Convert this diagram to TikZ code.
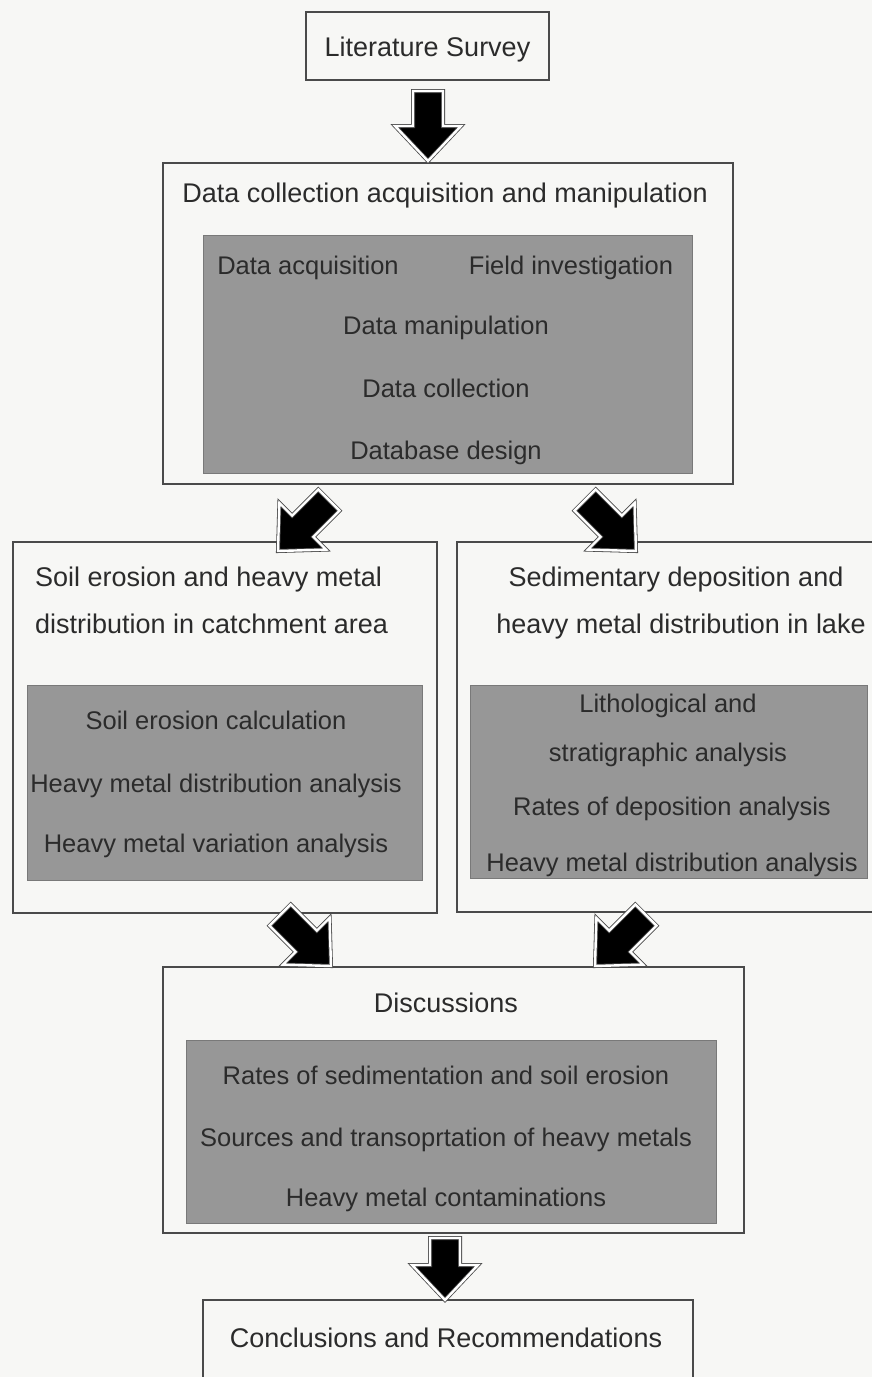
\documentclass[tikz,border=0pt]{standalone}
\usepackage{fontspec}
\setmainfont{Liberation Sans}
\usetikzlibrary{calc}
\definecolor{paper}{HTML}{F7F7F5}
\definecolor{ink}{HTML}{2B2B2B}
\definecolor{boxline}{HTML}{4A4A4A}
\definecolor{panel}{HTML}{979797}
\tikzset{
  outerbox/.style={draw=boxline, line width=1.6pt, fill=none, inner sep=0pt, anchor=center},
  innerbox/.style={fill=panel, draw=panel!80!black, line width=0.8pt, inner sep=0pt, anchor=center},
  bigtxt/.style={font=\fontsize{27}{30}\selectfont, text=ink, inner sep=0pt, anchor=base},
  smalltxt/.style={font=\fontsize{25.5}{28}\selectfont, text=ink, inner sep=0pt, anchor=base},
  blockarrow/.style={fill=black, draw=boxline, line width=0.8pt, double=white, double distance=2.4pt, line join=miter}
}
% #1 tip coordinate name, #2 canvas angle of pointing direction, #3 length
\newcommand\BlockArrow[3]{%
  \begin{scope}[shift={(#1)}, rotate=#2]
    \draw[blockarrow] (0,0) -- (-35,33) -- (-35,15) -- (-#3,15) -- (-#3,-15) -- (-35,-15) -- (-35,-33) -- cycle;
  \end{scope}}
\begin{document}
\begin{tikzpicture}[x=1pt, y=-1pt]
\useasboundingbox[fill=paper] (0,0) rectangle (872,1377);
\clip (0,0) rectangle (872,1377);

% boxes
\node[outerbox, minimum width=243, minimum height=68] (lit) at (427.5,46) {};
\node[outerbox, minimum width=570, minimum height=321] (data) at (448,323.5) {};
\node[innerbox, minimum width=489, minimum height=238] (datain) at (447.5,354) {};
\node[outerbox, minimum width=424, minimum height=371] (soil) at (225,727.5) {};
\node[innerbox, minimum width=395, minimum height=195] (soilin) at (224.5,782.5) {};
\node[outerbox, minimum width=421, minimum height=370] (sed) at (667.5,727) {};
\node[innerbox, minimum width=397, minimum height=193] (sedin) at (668.5,781.5) {};
\node[outerbox, minimum width=581, minimum height=266] (disc) at (453.5,1100) {};
\node[innerbox, minimum width=530, minimum height=183] (discin) at (451,1131.5) {};
\node[outerbox, minimum width=490, minimum height=90] (concl) at (448,1345) {};

% texts
\node[bigtxt] (tlit) at (427.5,56) {Literature Survey};
\node[bigtxt] (tdata) at (445,202) {Data collection acquisition and manipulation};
\node[smalltxt] (t1) at (308,274) {Data acquisition};
\node[smalltxt] (t2) at (571,274) {Field investigation};
\node[smalltxt] (t3) at (446,334) {Data manipulation};
\node[smalltxt] (t4) at (446,397) {Data collection};
\node[smalltxt] (t5) at (446,459) {Database design};
\node[bigtxt, anchor=base west] (ts1) at (35,586) {Soil erosion and heavy metal};
\node[bigtxt, anchor=base west] (ts2) at (35,633) {distribution in catchment area};
\node[bigtxt] (tr1) at (676,586) {Sedimentary deposition and};
\node[bigtxt] (tr2) at (681,633) {heavy metal distribution in lake};
\node[smalltxt] (ls1) at (216,729) {Soil erosion calculation};
\node[smalltxt] (ls2) at (216,792) {Heavy metal distribution analysis};
\node[smalltxt] (ls3) at (216,852) {Heavy metal variation analysis};
\node[smalltxt] (rs1) at (668,712) {Lithological and};
\node[smalltxt] (rs2) at (668,761) {stratigraphic analysis};
\node[smalltxt] (rs3) at (672,815) {Rates of deposition analysis};
\node[smalltxt] (rs4) at (672,871) {Heavy metal distribution analysis};
\node[bigtxt] (tdisc) at (446,1012) {Discussions};
\node[smalltxt] (d1) at (446,1084) {Rates of sedimentation and soil erosion};
\node[smalltxt] (d2) at (446,1146) {Sources and transoprtation of heavy metals};
\node[smalltxt] (d3) at (446,1206) {Heavy metal contaminations};
\node[bigtxt] (tconcl) at (446,1347) {Conclusions and Recommendations};

% arrow tips
\coordinate (a1) at (428,161);
\coordinate (a2) at (278,551);
\coordinate (a3) at (636,551);
\coordinate (a4) at (331,966);
\coordinate (a5) at (595,966);
\coordinate (a6) at (445,1300);

\BlockArrow{a1}{-90}{70}
\BlockArrow{a2}{-135}{72}
\BlockArrow{a3}{-45}{72}
\BlockArrow{a4}{-45}{72}
\BlockArrow{a5}{-135}{72}
\BlockArrow{a6}{-90}{62}
\end{tikzpicture}
\end{document}
